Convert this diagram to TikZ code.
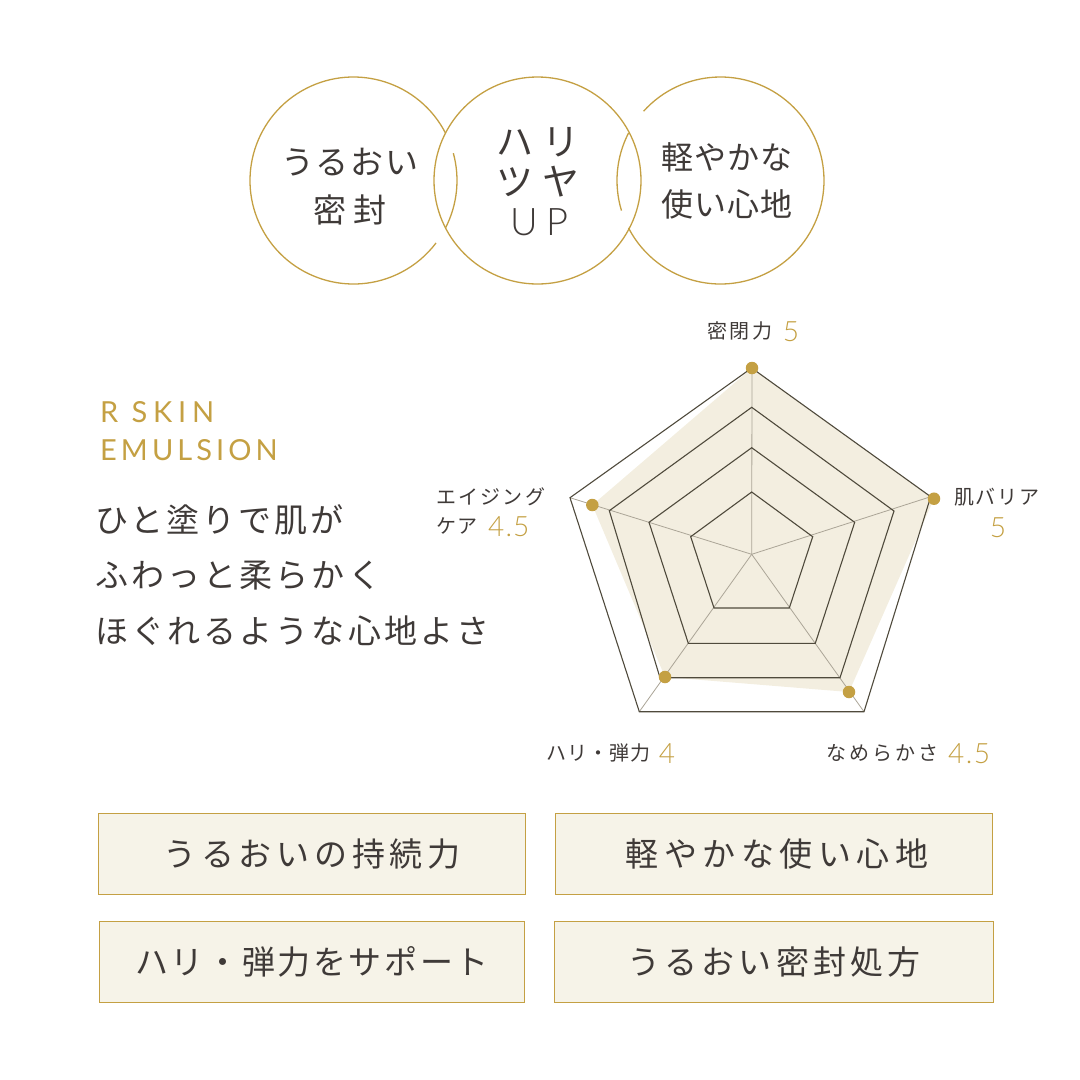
\documentclass[tikz,border=0pt]{standalone}
\usepackage{fontspec}
\setmainfont{Noto Sans CJK JP}
\newcommand{\jp}[2]{\fontspec{Noto Sans CJK JP}[LetterSpace=#2]\fontsize{#1}{#1}\selectfont}
\newcommand{\lat}[2]{\fontspec{Lato Light}[LetterSpace=#2]\fontsize{#1}{#1}\selectfont}
\newcommand{\latr}[2]{\fontspec{Lato}[LetterSpace=#2]\fontsize{#1}{#1}\selectfont}
\definecolor{gold}{HTML}{C4A043}
\definecolor{boxfill}{HTML}{F6F3E8}
\definecolor{areafill}{HTML}{F3EEE0}
\definecolor{ink}{HTML}{3F3A38}
\definecolor{spoke}{HTML}{ABA597}
\definecolor{ring}{HTML}{4F4A3C}
\tikzset{
  goldarc/.style={draw=gold,line width=1.3pt},
  ringline/.style={draw=ring,line width=1.1pt,line join=miter},
  spokeline/.style={draw=spoke,line width=0.8pt},
  dot/.style={circle,fill=gold,inner sep=0pt,minimum size=12.5pt},
  featbox/.style={draw=gold,fill=boxfill,line width=1.5pt,inner sep=0pt,text=ink},
  txt/.style={inner sep=0pt,text=ink,align=center},
  goldtxt/.style={inner sep=0pt,text=gold},
}
\begin{document}
\begin{tikzpicture}[x=1pt,y=-1pt]
\useasboundingbox (0,0) rectangle (1080,1080);
% circles
\draw[goldarc] (353.5,180.5) ++(27.3:103.5 and -103.5) arc[start angle=-27.3,end angle=-322.9,radius=103.5];
\draw[goldarc] (353.5,180.5) ++(15.3:103.5 and -103.5) arc[start angle=-15.3,end angle=27.3,radius=103.5];
\node[circle,goldarc,minimum size=207pt,inner sep=0pt] (c2) at (537.5,180.5) {};
\draw[goldarc] (720.5,180.5) ++(138:103.5 and -103.5) arc[start angle=-138,end angle=152.7,radius=103.5];
\draw[goldarc] (720.5,180.5) ++(152.7:103.5 and -103.5) arc[start angle=-152.7,end angle=-196.9,radius=103.5];
\node[txt] (t1a) at (350,162) {\jp{33}{6}うるおい};
\node[txt] (t1b) at (350,210) {\jp{33}{20}密封};
\node[txt] (t2a) at (538,142) {\jp{37}{25}ハリ};
\node[txt] (t2b) at (538,182) {\jp{37}{25}ツヤ};
\node[txt] (t2c) at (539,222) {\lat{38}{22}UP};
\node[txt] (t3a) at (727,157) {\jp{32}{3}軽やかな};
\node[txt] (t3b) at (727,204) {\jp{32}{3}使い心地};
% radar
\coordinate (o) at (751.7,554.3);
\fill[areafill] (752,368) -- (934,498.7) -- (849,692) -- (665,677) -- (592.3,505) -- cycle;
\foreach \a/\b in {752/368,930.7/496.7,864/711.7,639.3/711.7,570/497.7} \draw[spokeline] (o) -- (\a,\b);
\draw[ringline] (751.7,492) -- (812.7,536.7) -- (789.3,608) -- (714,608) -- (690.7,536.7) -- cycle;
\draw[ringline] (751.7,447.7) -- (854.7,522.3) -- (815.3,643.3) -- (688.3,643.3) -- (649,522.3) -- cycle;
\draw[ringline] (751.7,407.3) -- (894,511) -- (840,677.7) -- (660,677.7) -- (609.3,510.7) -- cycle;
\draw[ringline] (751.7,368) -- (930.7,496.7) -- (864,711.7) -- (639.3,711.7) -- (570,497.7) -- cycle;
\node[dot] (d1) at (752,368) {};
\node[dot] (d2) at (934,498.7) {};
\node[dot] (d3) at (849,692) {};
\node[dot] (d4) at (665,677) {};
\node[dot] (d5) at (592.3,505) {};
% radar labels
\node[txt,anchor=east] (l1) at (773,331) {\jp{20}{14}密閉力};
\node[goldtxt] (v1) at (791,332) {\lat{28}{0}5};
\node[txt,anchor=west] (l2) at (954,497) {\jp{20}{9}肌バリア};
\node[goldtxt] (v2) at (998,528) {\lat{28}{0}5};
\node[txt,anchor=east] (l3) at (939,753) {\jp{20}{16}なめらかさ};
\node[goldtxt,anchor=west] (v3) at (948,754) {\lat{28}{5}4.5};
\node[txt,anchor=east] (l4) at (651,753) {\jp{20}{5}ハリ・弾力};
\node[goldtxt] (v4) at (667,754) {\lat{28}{0}4};
\node[txt,anchor=west] (l5a) at (436,497) {\jp{20}{11}エイジング};
\node[txt,anchor=west] (l5b) at (436,526) {\jp{20}{7}ケア};
\node[goldtxt,anchor=west] (v5) at (488,527) {\lat{28}{4}4.5};
% left text
\node[goldtxt,anchor=west] (h1) at (100,412) {\latr{29}{20}R SKIN};
\node[goldtxt,anchor=west] (h2) at (100,450) {\latr{29}{14}EMULSION};
\node[txt,anchor=west] (b1) at (95,520) {\jp{33}{9.5}ひと塗りで肌が};
\node[txt,anchor=west] (b2) at (95,576) {\jp{33}{9.5}ふわっと柔らかく};
\node[txt,anchor=west] (b3) at (95,631) {\jp{33}{9.5}ほぐれるような心地よさ};
% boxes
\node[featbox,minimum width=427pt,minimum height=81pt] (f1) at (312,854) {\raisebox{-1pt}{\jp{33}{14.5}うるおいの持続力}};
\node[featbox,minimum width=437pt,minimum height=81pt] (f2) at (774,854) {\raisebox{-1pt}{\hspace*{6pt}\jp{33}{16.5}軽やかな使い心地}};
\node[featbox,minimum width=425pt,minimum height=81pt] (f3) at (312,962) {\raisebox{-1pt}{\jp{33}{8}ハリ・弾力をサポート}};
\node[featbox,minimum width=439pt,minimum height=81pt] (f4) at (774,962) {\raisebox{-1pt}{\jp{33}{12.5}うるおい密封処方}};
\end{tikzpicture}
\end{document}
